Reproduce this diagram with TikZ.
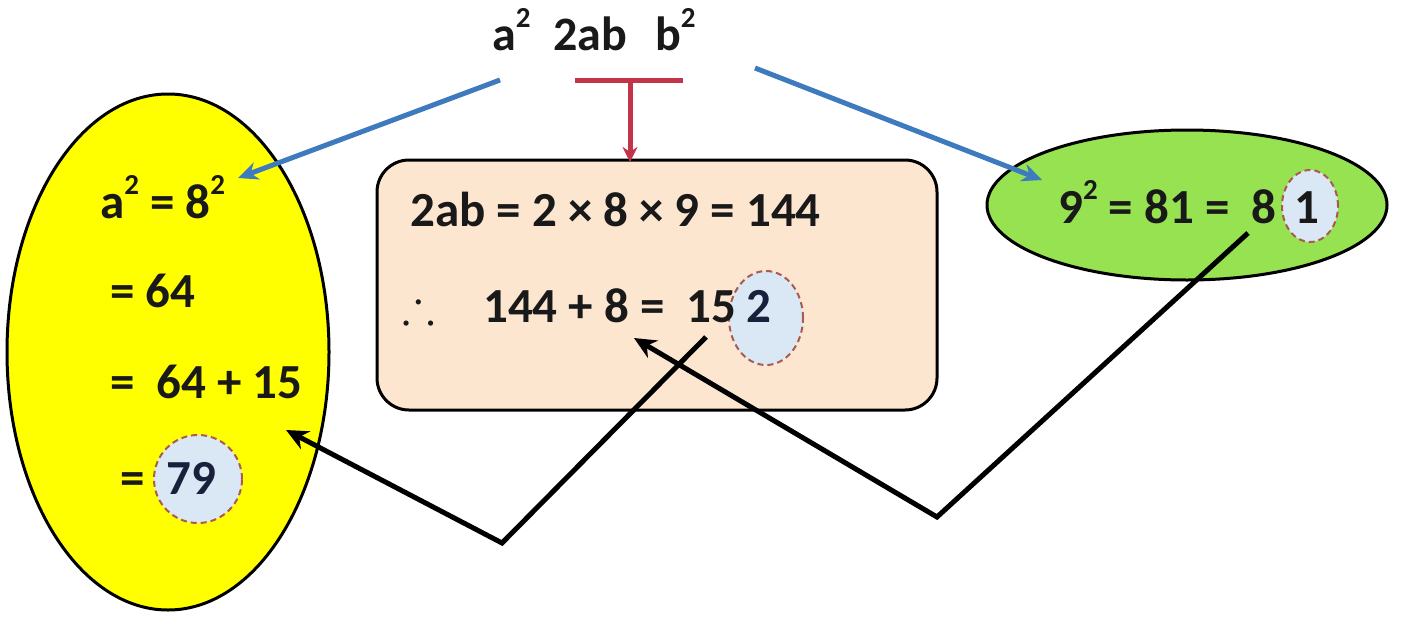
\documentclass[tikz,border=0pt]{standalone}
\usepackage{amssymb}
\usepackage{fontspec}
\setmainfont{Carlito}
\usetikzlibrary{arrows.meta,shapes.geometric}
\definecolor{yel}{RGB}{255,255,0}
\definecolor{grn}{RGB}{150,226,80}
\definecolor{peach}{RGB}{252,230,208}
\definecolor{blu}{RGB}{62,122,190}
\definecolor{rd}{RGB}{196,52,72}
\definecolor{circfill}{RGB}{218,232,246}
\definecolor{dashc}{RGB}{170,90,80}
\definecolor{navy}{RGB}{25,32,60}
\newcommand{\sq}{\raisebox{0.47em}{\fontsize{29}{29}\selectfont 2}}
\tikzset{
  txt/.style={anchor=base west, inner sep=0pt, font=\fontsize{49}{54}\selectfont\bfseries, text=black!90},
  toptxt/.style={anchor=base west, inner sep=0pt, font=\fontsize{48}{52}\selectfont\bfseries, text=black!90},
  bluarrow/.style={draw=blu, line width=5pt, -{Stealth[length=20pt,width=18pt]}},
  blkarrow/.style={draw=black, line width=5pt, -{Stealth[length=22pt,width=20pt]}},
  dcirc/.style={draw=dashc, dashed, dash pattern=on 6pt off 4pt, line width=2pt, fill=circfill},
}
\begin{document}
\begin{tikzpicture}[x=1pt,y=-1pt]
\useasboundingbox (0,0) rectangle (1407,632);
\fill[white] (0,0) rectangle (1407,632);
% shapes
\node[ellipse, draw=black, line width=3pt, fill=yel, minimum width=322pt, minimum height=516pt, inner sep=0pt] (yel) at (168,352) {};
\draw[black, line width=3pt, fill=peach, rounded corners=32pt] (377,160) rectangle (937,410);
\node[inner sep=0pt, minimum width=560pt, minimum height=250pt] (box) at (657,285) {};
\node[ellipse, draw=black, line width=3pt, fill=grn, minimum width=400pt, minimum height=150pt, inner sep=0pt] (grn) at (1187,205) {};
% dashed circles
\node[ellipse, dcirc, minimum width=88pt, minimum height=88pt, inner sep=0pt] (c79) at (198,479) {};
\node[ellipse, dcirc, minimum width=74pt, minimum height=94pt, inner sep=0pt] (c2) at (766,318) {};
\node[ellipse, dcirc, minimum width=56pt, minimum height=72pt, inner sep=0pt] (c1) at (1310,206) {};
% top text
\node[toptxt] (ta) at (492,50) {a\sq};
\node[toptxt] (t2ab) at (553,50) {2ab};
\node[toptxt] (tb) at (655,50) {b\sq};
% yellow texts
\node[txt] (y1) at (100,218) {a\sq\ = 8\sq};
\node[txt] (y2) at (110,307) {= 64};
\node[txt] (y3) at (110,398) {=\ \ 64 + 15};
\node[txt] (y4) at (120,494) {=};
\node[txt, text=navy] (y5) at (166,494) {79};
% box texts
\node[txt] (b1) at (410,226) {2ab = 2 × 8 × 9 = 144};
\node[txt] (bth) at (402,322) {$\therefore$};
\node[txt] (b2) at (483,322) {144 + 8 =\ \ 15};
\node[txt, text=navy] (b3) at (746,322) {2};
% green texts
\node[txt] (g1) at (1058,223) {9\sq\ = 81 =\ \ 8};
\node[txt] (g2) at (1294,223) {1};
% connectors
\coordinate (bl1s) at (500,80);
\coordinate (bl1e) at (238,178);
\coordinate (bl2s) at (755,68);
\coordinate (bl2e) at (1042,180);
\draw[bluarrow] (bl1s) -- (bl1e);
\draw[bluarrow] (bl2s) -- (bl2e);
\coordinate (rl) at (575,80);
\coordinate (rr) at (683,80);
\coordinate (rm) at (630,80);
\draw[rd, line width=5pt] (rl) -- (rr);
\draw[rd, line width=5pt, -{Stealth[length=15pt,width=15pt]}] (rm) -- (630,162);
\coordinate (k1s) at (706,337);
\coordinate (k1m) at (502,543);
\coordinate (k1e) at (286,430);
\draw[blkarrow, line join=miter] (k1s) -- (k1m) -- (k1e);
\coordinate (k2s) at (1248,233);
\coordinate (k2m) at (937,517);
\coordinate (k2e) at (634,338);
\draw[blkarrow, line join=miter] (k2s) -- (k2m) -- (k2e);
\end{tikzpicture}
\end{document}
